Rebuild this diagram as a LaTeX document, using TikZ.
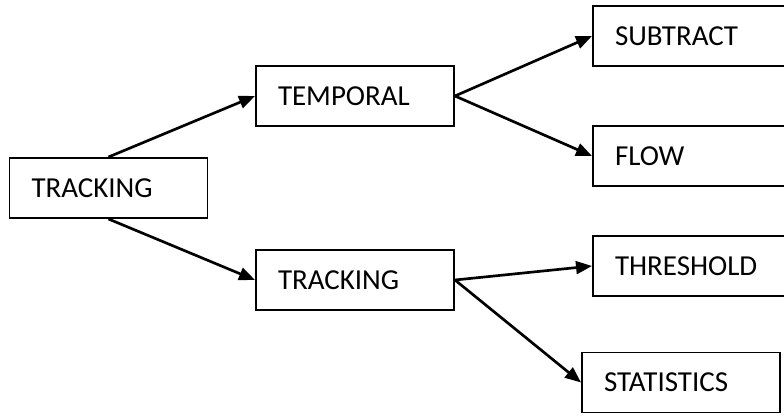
\documentclass[tikz,border=0pt]{standalone}
\usepackage{fontspec}
\setmainfont{Carlito}
\usetikzlibrary{arrows.meta}

\begin{document}
\begin{tikzpicture}[>={Triangle[length=0.4cm,width=0.32cm]}, line join=miter]
\def\xa{2.7125}
\def\xb{8.875}
\def\xc{17.3}
\tikzset{
  box/.style={draw, line width=1.4pt, minimum height=1.5cm, text width=3.85cm,
    align=left, inner xsep=0.55cm, inner ysep=0pt,
    font=\fontsize{20.6}{24}\selectfont},
  link/.style={->, line width=1.9pt},
}
\useasboundingbox (0,0) rectangle (19.6,10.4);

\node[box] (root) at (\xa,5.7) {TRACKING};

\node[box] (temporal) at (\xb,8.0) {TEMPORAL};
\node[box] (tracking) at (\xb,3.4) {TRACKING};

\node[box] (subtract)   at (\xc,9.5)     {SUBTRACT};
\node[box] (flow)       at (\xc,6.5)     {FLOW};
\node[box] (threshold)  at (\xc,3.75)    {THRESHOLD};
\node[box] (statistics) at (17.025,0.8375) {STATISTICS};

\draw[link] (root.north) -- (temporal.west);
\draw[link] (root.south) -- (tracking.west);

\draw[link] (temporal.east) -- (subtract.west);
\draw[link] (temporal.east) -- (flow.west);

\draw[link] (tracking.east) -- (threshold.west);
\draw[link] (tracking.east) -- (statistics.west);
\end{tikzpicture}
\end{document}
